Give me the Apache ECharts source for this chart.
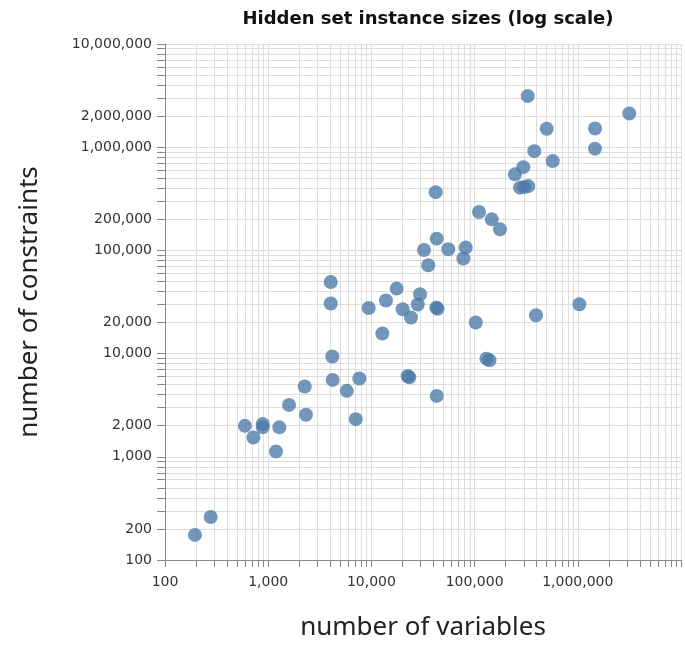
<!DOCTYPE html>
<html><head><meta charset="utf-8">
<script src="https://cdn.jsdelivr.net/npm/echarts@6/dist/echarts.min.js"></script>
<style>html,body{margin:0;padding:0;background:#fff}#c{width:685px;height:646px}</style>
</head><body><div id="c"></div>
<script>
// number of variables for each instance
var variables = [195, 277, 595, 718, 885, 885, 1282, 1191, 1592, 2259, 2323, 4217, 4178, 4036, 4036,
  5770, 7640, 7050, 9420, 12770, 13840, 17580, 20090, 24210, 29580, 28130, 42500, 43800, 22400, 23300,
  42960, 41980, 42960, 32360, 55600, 82000, 77800, 35560, 110400, 146600, 176200, 102600, 130300, 139300,
  393500, 1035000, 327000, 500000, 1468000, 3155000, 1468000, 379000, 571000, 296500, 246000, 275400, 331000, 303000];
// number of constraints for each instance
var constraints = [175, 261, 1995, 1540, 2075, 1930, 1930, 1128, 3185, 4800, 2552, 5560, 9370, 49400, 30550,
  4357, 5740, 2317, 27670, 15670, 32660, 42660, 26920, 22340, 37570, 29870, 27900, 27200, 6050, 5900,
  3890, 367000, 130000, 100900, 102600, 106400, 83400, 71800, 235500, 200000, 160000, 20000, 8930, 8630,
  23550, 30070, 3126000, 1510000, 1520000, 2123000, 968000, 916000, 733000, 641000, 545600, 405500, 420000, 412000];
// tick values
var xGridValues = [];
[100, 1000, 10000, 100000, 1000000].forEach(function (d) { for (var k = 1; k <= 9; k++) xGridValues.push(d * k); });
xGridValues.push(10000000);
var xLabelValues = [100, 1000, 10000, 100000, 1000000];
var yGridValues = [];
[100, 1000, 10000, 100000, 1000000].forEach(function (d) { for (var k = 1; k <= 9; k++) yGridValues.push(d * k); });
yGridValues.push(10000000);
var yLabelValues = [100, 200, 1000, 2000, 10000, 20000, 100000, 200000, 1000000, 2000000, 10000000];

var points = variables.map(function (v, i) { return [v, constraints[i]]; });
function fmt(v) { return Math.round(v).toString().replace(/\B(?=(\d{3})+(?!\d))/g, ','); }

var chart = echarts.init(document.getElementById('c'), null, {renderer: 'canvas'});
chart.setOption({
  animation: false,
  backgroundColor: '#fff',
  title: {
    text: 'Hidden set instance sizes (log scale)',
    left: 423, top: 5, textAlign: 'center',
    textStyle: {fontFamily: 'DejaVu Sans', fontWeight: 'bold', fontSize: 18, color: '#111'}
  },
  grid: {left: 165, right: 4, top: 44, bottom: 84, containLabel: false},
  xAxis: {
    type: 'log', logBase: 10, min: 100, max: 10000000,
    name: 'number of variables', nameLocation: 'middle', nameGap: 55,
    nameTextStyle: {fontFamily: 'Noto Sans', fontSize: 26, color: '#222'},
    axisLine: {show: true, lineStyle: {color: '#888', width: 1}},
    axisTick: {show: true, customValues: xGridValues, length: 7, lineStyle: {color: '#888'}},
    axisLabel: {customValues: xLabelValues, formatter: fmt, fontFamily: 'DejaVu Sans', fontSize: 14, color: '#333', margin: 15},
    splitLine: {show: true, lineStyle: {color: '#ddd', width: 1}},
    minorTick: {show: false}
  },
  yAxis: {
    type: 'log', logBase: 10, min: 100, max: 10000000,
    name: 'number of constraints', nameLocation: 'middle', nameGap: 122,
    nameTextStyle: {fontFamily: 'Noto Sans', fontSize: 26, color: '#222'},
    axisLine: {show: true, lineStyle: {color: '#888', width: 1}},
    axisTick: {show: true, customValues: yGridValues, length: 8, lineStyle: {color: '#888'}},
    axisLabel: {customValues: yLabelValues, formatter: fmt, fontFamily: 'DejaVu Sans', fontSize: 14, color: '#333', margin: 13},
    splitLine: {show: true, lineStyle: {color: '#ddd', width: 1}}
  },
  series: [{
    type: 'scatter',
    data: points,
    symbolSize: 14,
    itemStyle: {color: '#4c78a8', opacity: 0.78}
  }]
});
</script></body></html>
